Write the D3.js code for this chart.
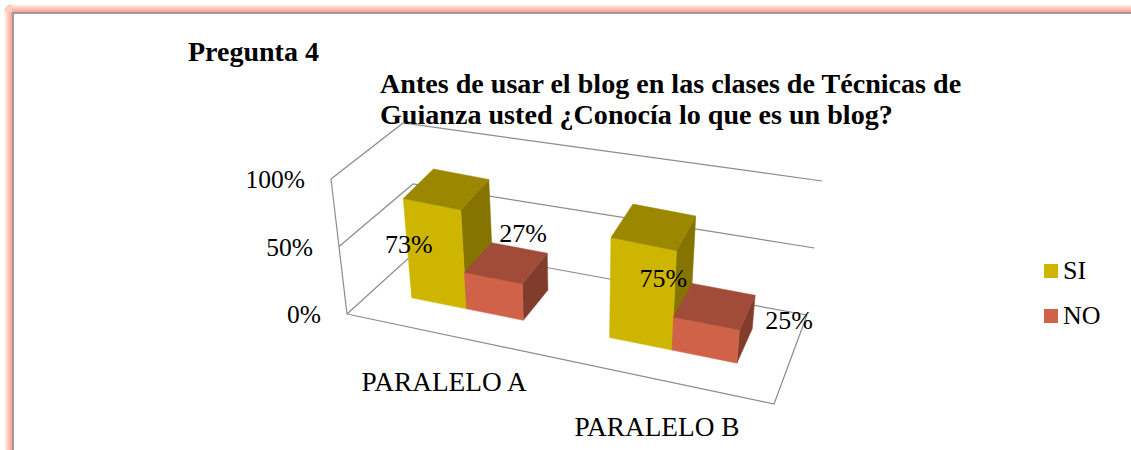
<!DOCTYPE html>
<html><head><meta charset="utf-8">
<script src="https://cdn.jsdelivr.net/npm/d3@7"></script>
<style>html,body{margin:0;padding:0;background:#fff;overflow:hidden}svg{display:block;font-family:"Liberation Serif",serif}</style>
</head><body><svg id="c" width="1131" height="450"></svg>
<script>
const categories = ["PARALELO A", "PARALELO B"];
const seriesNames = ["SI", "NO"];
const siValues = [73, 75];
const noValues = [27, 25];
const tickValues = [0, 50, 100];
const titleLines = ["Antes de usar el blog en las clases de Técnicas de", "Guianza usted ¿Conocía lo que es un blog?"];
const heading = "Pregunta 4";
const seriesColors = {SI:{front:"#cdb500",top:"#9c8800",side:"#857400"},NO:{front:"#d0624a",top:"#a04c38",side:"#823c2c"}};

function homography(p){
  const [[x0,y0],[x1,y1],[x2,y2],[x3,y3]]=p;
  const dx1=x1-x2,dx2=x3-x2,sx=x0-x1+x2-x3,dy1=y1-y2,dy2=y3-y2,sy=y0-y1+y2-y3;
  const det=dx1*dy2-dx2*dy1;
  const g=(sx*dy2-dx2*sy)/det,h=(dx1*sy-sx*dy1)/det;
  const a=x1-x0+g*x1,b=x3-x0+h*x3,d=y1-y0+g*y1,e=y3-y0+h*y3;
  return (u,v)=>{const w=g*u+h*v+1;return [(a*u+b*v+x0)/w,(d*u+e*v+y0)/w];};
}
const floorH = homography([[347,314],[774,404],[807,315],[423,245]]);
const topH   = homography([[331,179],[800,262],[822,181],[403,123]]);
const zScale = d3.scaleLinear().domain([0,100]).range([0,1]);
// walls: interpolate between the floor and ceiling planes
const proj = (u,v,pct)=>{
  const a=floorH(u,v),b=topH(u,v),t=zScale(pct);
  return [a[0]+(b[0]-a[0])*t,a[1]+(b[1]-a[1])*t];
};
// bars: rise towards the vertical vanishing point of the view
const vanish=[583,2309], rise=d3.scaleLinear().domain([0,100]).range([1,1.0677]);
const barProj = (u,v,pct)=>{
  const a=floorH(u,v),s=rise(pct);
  return [vanish[0]+(a[0]-vanish[0])*s,vanish[1]+(a[1]-vanish[1])*s];
};
const xBand = d3.scaleBand().domain(categories).range([0,1]).paddingInner(0.42).paddingOuter(0.21);
const xSeries = d3.scaleBand().domain(seriesNames).range([0,xBand.bandwidth()]);
const depth = [0.32,0.72];

const svg=d3.select("#c");
const defs=svg.append("defs");
const gr=(id,x1,y1,x2,y2)=>{const g=defs.append("linearGradient").attr("id",id).attr("x1",x1).attr("y1",y1).attr("x2",x2).attr("y2",y2);
  g.append("stop").attr("offset",0).attr("stop-color","#fff");
  g.append("stop").attr("offset",0.45).attr("stop-color","#ffcfc4");
  g.append("stop").attr("offset",1).attr("stop-color","#fca08e");};
gr("gt",0,0,0,1);gr("gl",0,0,1,0);
svg.append("rect").attr("x",12).attr("y",4).attr("width",1119).attr("height",8).attr("fill","url(#gt)");
svg.append("rect").attr("x",4).attr("y",12).attr("width",8).attr("height",438).attr("fill","url(#gl)");
svg.append("path").attr("d","M4,12 A8,8 0 0 1 12,4 L12,12 Z").attr("fill","#ffcfc4");
svg.append("path").attr("d","M13,450 V13 H1131").attr("fill","none").attr("stroke","#9a9a9a").attr("stroke-width",2);

const lineGen=d3.line();
const grid=svg.append("g").attr("fill","none").attr("stroke","#8c8c8c").attr("stroke-width",1.2);
tickValues.forEach(t=>{
  grid.append("path").attr("d",lineGen([proj(0,0,t),proj(0,1,t),proj(1,1,t)]));
});
grid.append("path").attr("d",lineGen([proj(0,0,0),proj(0,0,100)]));
grid.append("path").attr("d",lineGen([proj(0,0,0),proj(1,0,0),proj(1,1,0)]));

const poly=(g,pts,fill)=>g.append("path").attr("d",lineGen(pts)+"Z").attr("fill",fill).attr("stroke",fill).attr("stroke-width",0.5);
const bars=svg.append("g");
categories.forEach((c,i)=>{
  [["SI",siValues[i]],["NO",noValues[i]]].forEach(([s,val])=>{
    const u0=xBand(c)+xSeries(s),u1=u0+xSeries.bandwidth(),[v0,v1]=depth,col=seriesColors[s];
    poly(bars,[barProj(u1,v0,0),barProj(u1,v1,0),barProj(u1,v1,val),barProj(u1,v0,val)],col.side);
    poly(bars,[barProj(u0,v0,0),barProj(u1,v0,0),barProj(u1,v0,val),barProj(u0,v0,val)],col.front);
    poly(bars,[barProj(u0,v0,val),barProj(u1,v0,val),barProj(u1,v1,val),barProj(u0,v1,val)],col.top);
  });
});

const txt=(x,y,s,size,anchor,bold)=>svg.append("text").attr("x",x).attr("y",y).text(s).attr("font-size",size).attr("text-anchor",anchor||"start").attr("font-weight",bold?"bold":"normal").attr("fill","#000");
tickValues.forEach(t=>{const p=proj(0,0,t);txt(p[0]-26,p[1]+9,t+"%",25.5,"end");});
const labelAt=(i,s,val,dx,dy)=>{const u=xBand(categories[i])+xSeries(s)+xSeries.bandwidth()/2;const p=barProj(u,depth[0],val);txt(p[0]+dx,p[1]+dy,val+"%",26,"middle");};
labelAt(0,"SI",siValues[0],-23,49);
labelAt(0,"NO",noValues[0],30,-36);
labelAt(1,"SI",siValues[1],20,43);
labelAt(1,"NO",noValues[1],83,5);
categories.forEach((c,i)=>{const u=xBand(c)+xBand.bandwidth()/2;const p=proj(u,0,0);txt(p[0]+1,p[1]+57,c,27.3,"middle");});
txt(188,61,heading,28,"start",true);
titleLines.forEach((l,i)=>txt(380,93+i*31,l,28.1,"start",true));
const legY=d3.scalePoint().domain(seriesNames).range([271,316]);
seriesNames.forEach(s=>{
  svg.append("rect").attr("x",1044).attr("y",legY(s)-7).attr("width",14).attr("height",14).attr("fill",seriesColors[s].front);
  txt(1063,legY(s)+8,s,26);
});
</script></body></html>
